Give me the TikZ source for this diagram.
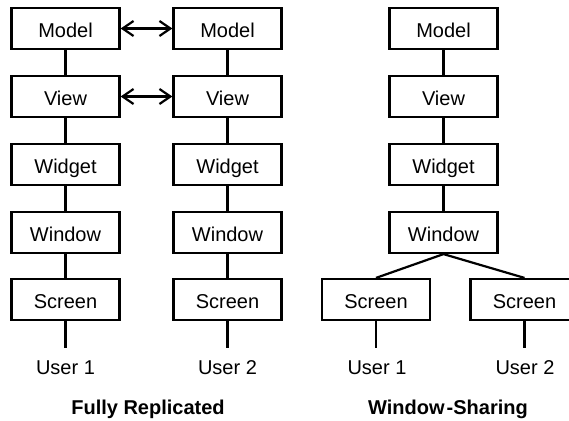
\documentclass[tikz,border=0pt]{standalone}
\usepackage{fontspec}
\setmainfont{Liberation Sans}
\usetikzlibrary{arrows.meta}
\begin{document}
\begin{tikzpicture}[x=1pt,y=-1pt,
 box/.style={draw, line width=2.2pt, minimum width=108pt, minimum height=41pt, inner sep=0pt, text height=18pt, text depth=0pt, font=\fontsize{20}{24}\selectfont},
 link/.style={line width=2.2pt},
 sync/.style={line width=2.2pt, {Straight Barb[length=11pt,width=15pt]}-{Straight Barb[length=11pt,width=15pt]}},
 lbl/.style={anchor=base, inner sep=0pt, font=\fontsize{20}{24}\selectfont},
 ttl/.style={anchor=base, inner sep=0pt, font=\bfseries\fontsize{20}{24}\selectfont}]
\useasboundingbox (0,0) rectangle (569,420);
% column 1
\node[box] (m1) at (65.5,28.5) {Model};
\node[box] (v1) at (65.5,96.5) {View};
\node[box] (g1) at (65.5,164.5) {Widget};
\node[box] (w1) at (65.5,232.5) {Window};
\node[box] (s1) at (65.5,299.5) {Screen};
\coordinate (e1) at (65.5,348);
\node[lbl] (u1) at (65.5,374.5) {User 1};
% column 2
\node[box] (m2) at (227.5,28.5) {Model};
\node[box] (v2) at (227.5,96.5) {View};
\node[box] (g2) at (227.5,164.5) {Widget};
\node[box] (w2) at (227.5,232.5) {Window};
\node[box] (s2) at (227.5,299.5) {Screen};
\coordinate (e2) at (227.5,348);
\node[lbl] (u2) at (227.5,374.5) {User 2};
% column 3
\node[box] (m3) at (443.5,28.5) {Model};
\node[box] (v3) at (443.5,96.5) {View};
\node[box] (g3) at (443.5,164.5) {Widget};
\node[box] (w3) at (443.5,232.5) {Window};
\node[box] (s3) at (376,299.5) {Screen};
\node[box] (s4) at (524.5,299.5) {Screen};
\coordinate (e3) at (376,348);
\coordinate (e4) at (524.5,348);
\node[lbl] (u3) at (377,374.5) {User 1};
\node[lbl] (u4) at (525,374.5) {User 2};
% titles
\node[ttl] (t1) at (148,414.5) {Fully Replicated};
\node[ttl] (t2) at (448,414.5) {Window\kern2pt-Sharing};
% links
\draw[link] (m1) -- (v1) (v1) -- (g1) (g1) -- (w1) (w1) -- (s1) (s1) -- (e1);
\draw[link] (m2) -- (v2) (v2) -- (g2) (g2) -- (w2) (w2) -- (s2) (s2) -- (e2);
\draw[link] (m3) -- (v3) (v3) -- (g3) (g3) -- (w3);
\draw[link] (w3.south) -- (s3.north) (w3.south) -- (s4.north);
\draw[link] (s3) -- (e3) (s4) -- (e4);
\draw[sync] (m1.east) -- (m2.west);
\draw[sync] (v1.east) -- (v2.west);
\end{tikzpicture}
\end{document}
